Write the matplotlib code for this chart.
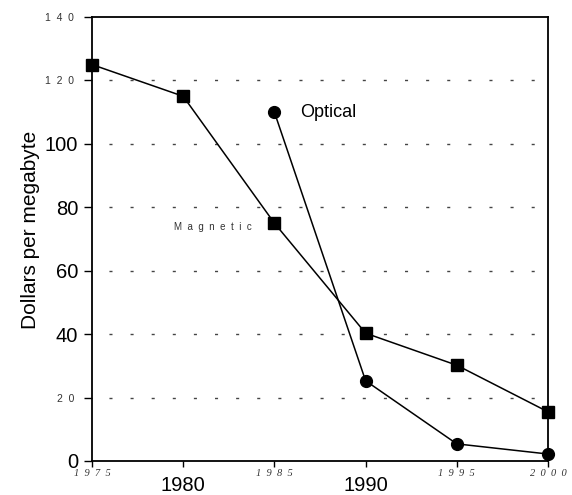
import matplotlib.pyplot as plt
import numpy as np

years = [1975, 1980, 1985, 1990, 1995, 2000]
magnetic = [125, 115, 75, 40.3, 30.2, 15.5]
optical_years = [1985, 1990, 1995, 2000]
optical = [110, 25.3, 5.4, 2.2]

# big and small tick labels (the scan mixes two fonts)
ytick_big = [0, 40, 60, 80, 100]
ytick_small = [20, 120, 140]
grid_vals = [20, 40, 60, 80, 100, 120]
xtick_big = [1980, 1990]
xtick_small = [1975, 1985, 1995, 2000]

fig = plt.figure(figsize=(5.72, 4.95), dpi=100)
ax = fig.add_axes([92 / 572, 1 - 461 / 495, 456 / 572, 444 / 495])

ax.plot(years, magnetic, color='black', lw=1.1, marker='s', markersize=8, clip_on=False, zorder=3)
ax.plot(optical_years, optical, color='black', lw=1.1, marker='o', markersize=8.5, clip_on=False, zorder=3)

ax.set_xlim(1975, 2000)
ax.set_ylim(0, 140)

# dashed guide lines
for v in grid_vals:
    ax.axhline(v, color='#444444', lw=1, linestyle=(3, (2.2, 13)), zorder=1)

def spaced(v):
    return '  '.join(str(v))

ax.set_yticks(ytick_big)
ax.set_yticklabels([str(v) for v in ytick_big], fontsize=14.5, family='Liberation Sans')
ax.set_yticks(ytick_small, minor=True)
ax.set_yticklabels([spaced(v) for v in ytick_small], minor=True, fontsize=7.5,
                   family='Liberation Sans', color='#333333')

ax.set_xticks(xtick_big)
ax.set_xticklabels([str(v) for v in xtick_big], fontsize=14.5, family='Liberation Sans')
ax.set_xticks(xtick_small, minor=True)
ax.set_xticklabels([spaced(v) for v in xtick_small], minor=True, fontsize=7.5,
                   family='Liberation Serif', style='italic', color='#333333')

ax.tick_params(axis='y', which='both', direction='out', length=6, width=1)
ax.tick_params(axis='y', which='major', pad=4)
ax.tick_params(axis='y', which='minor', pad=7)
ax.tick_params(axis='x', which='both', direction='out', length=4, width=1)
ax.tick_params(axis='x', which='major', pad=7)
ax.tick_params(axis='x', which='minor', pad=2)

for s in ax.spines.values():
    s.set_linewidth(1.3)

ax.set_ylabel('Dollars per megabyte', fontsize=15, family='Liberation Sans')
ax.yaxis.set_label_coords(-0.115, 0.52)

ax.text(1986.4, 110, 'Optical', fontsize=13, family='Liberation Sans', va='center', ha='left')
ax.text(1979.5, 73.8, 'M  a  g  n  e  t  i  c', fontsize=7, family='Liberation Sans',
        va='center', ha='left', color='#333333')

fig.savefig('out.png', dpi=100)
